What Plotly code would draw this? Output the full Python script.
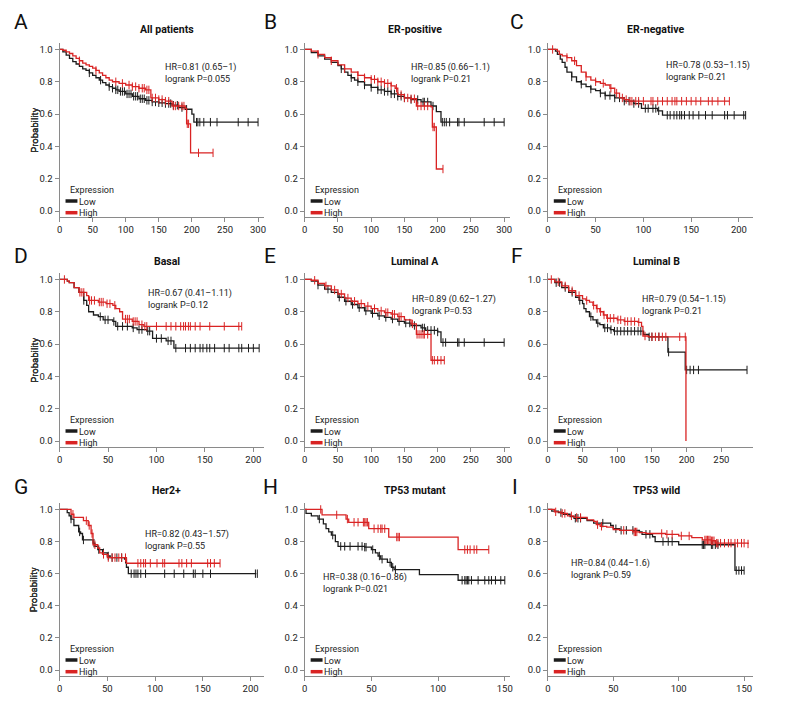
import numpy as np
import plotly.graph_objects as go

# ---------------- data ----------------
TITLES = ["All patients", "ER-positive", "ER-negative", "Basal", "Luminal A",
          "Luminal B", "Her2+", "TP53 mutant", "TP53 wild"]
LETTERS = ["A", "B", "C", "D", "E", "F", "G", "H", "I"]
HR_TEXT = ["HR=0.81 (0.65–1)", "HR=0.85 (0.66–1.1)", "HR=0.78 (0.53–1.15)",
           "HR=0.67 (0.41–1.11)", "HR=0.89 (0.62–1.27)", "HR=0.79 (0.54–1.15)",
           "HR=0.82 (0.43–1.57)", "HR=0.38 (0.16–0.86)", "HR=0.84 (0.44–1.6)"]
P_TEXT = ["logrank P=0.055", "logrank P=0.21", "logrank P=0.21", "logrank P=0.12",
          "logrank P=0.53", "logrank P=0.21", "logrank P=0.55", "logrank P=0.021",
          "logrank P=0.59"]
LEGEND_TITLE = "Expression"
GROUPS = ["Low", "High"]
X_TICKS = [
    [0, 50, 100, 150, 200, 250, 300], [0, 50, 100, 150, 200, 250, 300], [0, 50, 100, 150, 200],
    [0, 50, 100, 150, 200], [0, 50, 100, 150, 200, 250, 300], [0, 50, 100, 150, 200, 250],
    [0, 50, 100, 150, 200], [0, 50, 100, 150], [0, 50, 100, 150],
]
X_MAX = [309, 309, 215, 211, 309, 296, 214, 154, 157]
Y_TICKS = [0.0, 0.2, 0.4, 0.6, 0.8, 1.0]

# A: All patients
A_LOW_T = [0, 5, 10, 15, 20, 25, 30, 35, 40, 45, 50, 55, 60, 65, 70, 75, 80, 85, 90, 100, 110, 120, 130, 140, 150, 160, 170, 180, 190, 200, 203, 300]
A_LOW_S = [1, 0.985, 0.965, 0.945, 0.925, 0.91, 0.895, 0.88, 0.87, 0.855, 0.84, 0.825, 0.81, 0.795, 0.78, 0.77, 0.76, 0.75, 0.74, 0.725, 0.71, 0.695, 0.685, 0.675, 0.67, 0.665, 0.655, 0.64, 0.63, 0.60, 0.55, 0.55]
A_LOW_C = [45, 62, 75, 80, 85, 88, 92, 95, 98, 102, 105, 108, 112, 115, 118, 122, 125, 128, 132, 135, 140, 145, 150, 155, 160, 165, 168, 172, 178, 185, 192, 207, 209, 212, 218, 228, 238, 270, 285, 300]
A_HIGH_T = [0, 5, 10, 15, 20, 25, 30, 35, 40, 45, 50, 55, 60, 65, 70, 75, 80, 90, 100, 110, 120, 130, 138, 150, 160, 170, 190, 192, 198, 232]
A_HIGH_S = [1, 0.995, 0.985, 0.975, 0.96, 0.945, 0.93, 0.915, 0.905, 0.895, 0.885, 0.87, 0.855, 0.84, 0.825, 0.81, 0.80, 0.79, 0.78, 0.77, 0.76, 0.75, 0.70, 0.69, 0.68, 0.65, 0.635, 0.54, 0.36, 0.36]
A_HIGH_C = [30, 55, 85, 95, 105, 110, 115, 120, 125, 128, 132, 135, 140, 145, 150, 155, 160, 165, 172, 175, 180, 185, 188, 193, 195, 210, 232]

# B: ER-positive
B_LOW_T = [0, 10, 20, 30, 40, 50, 55, 60, 65, 70, 75, 80, 90, 100, 110, 120, 130, 140, 150, 160, 175, 190, 198, 205, 300]
B_LOW_S = [1, 0.98, 0.96, 0.94, 0.92, 0.90, 0.88, 0.86, 0.84, 0.825, 0.81, 0.80, 0.78, 0.765, 0.75, 0.74, 0.725, 0.71, 0.70, 0.69, 0.675, 0.65, 0.615, 0.55, 0.55]
B_LOW_C = [55, 70, 80, 90, 100, 110, 115, 120, 125, 130, 135, 140, 145, 150, 160, 170, 178, 180, 185, 193, 207, 210, 213, 218, 230, 232, 240, 270, 285, 300]
B_HIGH_T = [0, 10, 20, 30, 40, 50, 60, 70, 80, 90, 100, 110, 120, 130, 136, 140, 150, 160, 168, 190, 192, 198, 208]
B_HIGH_S = [1, 0.99, 0.97, 0.95, 0.93, 0.905, 0.88, 0.86, 0.84, 0.825, 0.815, 0.80, 0.79, 0.775, 0.76, 0.72, 0.70, 0.695, 0.65, 0.645, 0.52, 0.26, 0.26]
B_HIGH_C = [20, 40, 60, 80, 90, 100, 105, 110, 115, 120, 125, 130, 138, 145, 150, 155, 160, 165, 170, 175, 180, 185, 193, 195, 208]

# C: ER-negative
C_LOW_T = [0, 8, 10, 13, 15, 18, 20, 25, 30, 35, 40, 45, 50, 55, 60, 70, 80, 90, 98, 115, 120, 207]
C_LOW_S = [1, 0.99, 0.97, 0.94, 0.92, 0.89, 0.86, 0.83, 0.80, 0.785, 0.77, 0.755, 0.745, 0.73, 0.715, 0.70, 0.68, 0.665, 0.635, 0.62, 0.593, 0.593]
C_LOW_C = [25, 35, 45, 55, 60, 65, 70, 75, 80, 85, 90, 95, 102, 105, 110, 113, 116, 125, 128, 132, 135, 138, 140, 143, 148, 152, 158, 165, 172, 185, 188, 195, 205, 207]
C_HIGH_T = [0, 10, 12, 15, 20, 25, 30, 35, 40, 45, 50, 55, 60, 65, 70, 75, 80, 85, 190]
C_HIGH_S = [1, 0.99, 0.97, 0.96, 0.95, 0.93, 0.90, 0.86, 0.83, 0.81, 0.80, 0.79, 0.78, 0.76, 0.73, 0.70, 0.69, 0.68, 0.68]
C_HIGH_C = [5, 20, 28, 40, 50, 58, 66, 72, 78, 82, 86, 88, 92, 95, 100, 108, 110, 115, 120, 125, 130, 133, 135, 140, 145, 150, 155, 160, 168, 172, 178, 185, 190]

# D: Basal
D_LOW_T = [0, 8, 10, 15, 20, 25, 28, 30, 35, 40, 45, 55, 58, 75, 80, 90, 96, 110, 118, 206]
D_LOW_S = [1, 0.99, 0.98, 0.95, 0.92, 0.87, 0.84, 0.80, 0.78, 0.77, 0.75, 0.74, 0.71, 0.70, 0.69, 0.68, 0.635, 0.62, 0.575, 0.575]
D_LOW_C = [25, 42, 47, 50, 56, 60, 65, 70, 76, 82, 85, 91, 93, 100, 105, 112, 115, 120, 130, 135, 140, 145, 148, 152, 155, 160, 170, 175, 185, 188, 195, 200, 206]
D_HIGH_T = [0, 8, 10, 15, 20, 28, 30, 40, 48, 55, 58, 62, 65, 75, 82, 87, 188]
D_HIGH_S = [1, 0.99, 0.98, 0.95, 0.92, 0.90, 0.87, 0.86, 0.85, 0.84, 0.82, 0.80, 0.755, 0.74, 0.72, 0.71, 0.71]
D_HIGH_C = [5, 21, 23, 25, 31, 33, 36, 41, 43, 45, 49, 52, 57, 68, 70, 72, 76, 78, 80, 85, 88, 90, 100, 110, 115, 120, 125, 128, 130, 133, 135, 140, 145, 155, 170, 185, 188]

# E: Luminal A
E_LOW_T = [0, 10, 20, 30, 40, 50, 60, 70, 80, 90, 100, 110, 120, 130, 140, 150, 160, 175, 182, 200, 205, 300]
E_LOW_S = [1, 0.99, 0.965, 0.94, 0.92, 0.89, 0.865, 0.845, 0.825, 0.805, 0.79, 0.775, 0.765, 0.755, 0.74, 0.73, 0.715, 0.70, 0.685, 0.675, 0.61, 0.61]
E_LOW_C = [20, 35, 52, 62, 72, 82, 92, 102, 112, 122, 132, 142, 152, 158, 165, 177, 180, 185, 190, 195, 200, 208, 212, 230, 232, 240, 270, 300]
E_HIGH_T = [0, 10, 20, 30, 40, 50, 60, 70, 80, 90, 100, 110, 120, 130, 140, 150, 160, 168, 190, 210]
E_HIGH_S = [1, 0.995, 0.975, 0.96, 0.935, 0.91, 0.885, 0.865, 0.85, 0.835, 0.82, 0.805, 0.795, 0.785, 0.77, 0.75, 0.725, 0.66, 0.50, 0.50]
E_HIGH_C = [15, 32, 45, 55, 65, 75, 85, 95, 105, 115, 122, 125, 132, 135, 142, 145, 162, 169, 172, 175, 178, 180, 185, 192, 195, 200, 205, 210]

# F: Luminal B
F_LOW_T = [0, 10, 20, 30, 40, 45, 50, 52, 55, 60, 65, 70, 75, 80, 90, 95, 135, 138, 145, 173, 198, 287]
F_LOW_S = [1, 0.98, 0.95, 0.92, 0.89, 0.87, 0.85, 0.82, 0.80, 0.77, 0.75, 0.73, 0.72, 0.70, 0.69, 0.68, 0.68, 0.66, 0.645, 0.55, 0.44, 0.44]
F_LOW_C = [12, 17, 25, 35, 46, 62, 72, 82, 86, 91, 96, 100, 105, 110, 115, 120, 125, 130, 134, 146, 150, 160, 174, 200, 205, 210, 217, 287]
F_HIGH_T = [0, 10, 20, 30, 40, 50, 55, 60, 65, 70, 75, 80, 85, 100, 110, 130, 135, 137, 145, 199]
F_HIGH_S = [1, 0.985, 0.96, 0.93, 0.90, 0.88, 0.87, 0.86, 0.84, 0.82, 0.80, 0.78, 0.76, 0.75, 0.74, 0.735, 0.71, 0.65, 0.645, 0.0]
F_HIGH_C = [5, 15, 25, 35, 45, 56, 66, 71, 76, 81, 86, 90, 95, 101, 105, 111, 115, 120, 125, 131, 140, 150, 155, 160, 165, 170, 190, 198]

# G: Her2+
G_LOW_T = [0, 8, 10, 12, 15, 20, 22, 24, 35, 37, 40, 45, 50, 53, 68, 70, 72, 206]
G_LOW_S = [1, 0.98, 0.96, 0.94, 0.90, 0.86, 0.85, 0.81, 0.79, 0.77, 0.75, 0.73, 0.71, 0.70, 0.69, 0.64, 0.60, 0.60]
G_LOW_C = [12, 21, 25, 36, 41, 46, 51, 55, 60, 65, 69, 75, 78, 80, 82, 85, 90, 110, 120, 130, 140, 142, 150, 158, 205, 207]
G_HIGH_T = [0, 12, 15, 25, 30, 33, 35, 40, 42, 45, 50, 68, 70, 168]
G_HIGH_S = [1, 0.97, 0.95, 0.93, 0.90, 0.85, 0.78, 0.76, 0.73, 0.72, 0.70, 0.70, 0.665, 0.665]
G_HIGH_C = [14, 28, 31, 34, 37, 46, 51, 55, 58, 62, 65, 69, 82, 85, 88, 90, 95, 102, 108, 110, 125, 128, 133, 138, 155, 158, 162, 168]

# H: TP53 mutant
H_LOW_T = [0, 1, 5, 10, 14, 16, 18, 20, 23, 25, 45, 50, 53, 55, 57, 62, 65, 67, 86, 115, 150]
H_LOW_S = [1, 0.975, 0.96, 0.94, 0.91, 0.88, 0.86, 0.84, 0.80, 0.77, 0.765, 0.75, 0.73, 0.71, 0.69, 0.67, 0.64, 0.625, 0.594, 0.559, 0.559]
H_LOW_C = [11, 21, 27, 30, 34, 40, 43, 45, 46, 51, 56, 58, 64, 66, 68, 118, 120, 121, 122, 123, 125, 130, 135, 138, 140, 143, 147, 150]
H_HIGH_T = [0, 13, 31, 33, 48, 63, 115, 138]
H_HIGH_S = [1, 0.966, 0.94, 0.92, 0.88, 0.828, 0.75, 0.75]
H_HIGH_C = [12, 24, 32, 37, 40, 44, 45, 46, 47, 52, 55, 57, 58, 60, 69, 70, 71, 120, 122, 124, 127, 129, 138]

# I: TP53 wild
I_LOW_T = [0, 3, 8, 12, 17, 20, 30, 35, 48, 50, 55, 70, 72, 80, 82, 100, 143, 150]
I_LOW_S = [1, 0.99, 0.98, 0.97, 0.955, 0.945, 0.93, 0.915, 0.90, 0.88, 0.87, 0.86, 0.845, 0.83, 0.80, 0.78, 0.62, 0.62]
I_LOW_C = [10, 21, 23, 25, 42, 52, 56, 60, 65, 75, 78, 88, 92, 95, 118, 119, 120, 125, 126, 128, 130, 144, 146, 148, 150]
I_HIGH_T = [0, 5, 10, 15, 20, 30, 35, 37, 40, 45, 50, 55, 65, 70, 75, 90, 100, 110, 118, 125, 128, 153]
I_HIGH_S = [1, 0.985, 0.975, 0.96, 0.95, 0.935, 0.925, 0.905, 0.895, 0.89, 0.875, 0.87, 0.86, 0.855, 0.85, 0.845, 0.835, 0.825, 0.81, 0.805, 0.79, 0.785]
I_HIGH_C = [6, 11, 13, 18, 22, 25, 38, 41, 58, 66, 67, 68, 87, 91, 95, 102, 108, 120, 121, 122, 123, 124, 125, 126, 127, 129, 130, 132, 135, 138, 140, 143, 145, 148, 150, 153]

CURVES = [
    (A_LOW_T, A_LOW_S, A_LOW_C, A_HIGH_T, A_HIGH_S, A_HIGH_C),
    (B_LOW_T, B_LOW_S, B_LOW_C, B_HIGH_T, B_HIGH_S, B_HIGH_C),
    (C_LOW_T, C_LOW_S, C_LOW_C, C_HIGH_T, C_HIGH_S, C_HIGH_C),
    (D_LOW_T, D_LOW_S, D_LOW_C, D_HIGH_T, D_HIGH_S, D_HIGH_C),
    (E_LOW_T, E_LOW_S, E_LOW_C, E_HIGH_T, E_HIGH_S, E_HIGH_C),
    (F_LOW_T, F_LOW_S, F_LOW_C, F_HIGH_T, F_HIGH_S, F_HIGH_C),
    (G_LOW_T, G_LOW_S, G_LOW_C, G_HIGH_T, G_HIGH_S, G_HIGH_C),
    (H_LOW_T, H_LOW_S, H_LOW_C, H_HIGH_T, H_HIGH_S, H_HIGH_C),
    (I_LOW_T, I_LOW_S, I_LOW_C, I_HIGH_T, I_HIGH_S, I_HIGH_C),
]

# ---------------- layout / style ----------------
W, H = 792, 720
FONT = "Roboto, Liberation Sans, sans-serif"
BLACK = "#1c1c1c"
RED = "#d92323"
AXIS = "#8a8a8a"
TXT = "#222222"

COL_X = [(57, 263), (304, 511), (549, 756)]      # pixel left/right of plot areas
ROW_Y = [(43, 217), (273, 447), (503, 676)]      # pixel top/bottom of plot areas
LETTER_POS = [(18, 22), (270, 22), (518, 22), (18, 256), (269, 256), (518, 256),
              (18, 487), (270, 487), (516, 487)]
TITLE_Y = [30, 261, 490]
TITLE_X = [165, 415, 658]
HR_POS = [(161, 65), (409, 65), (666, 63), (144, 291), (410, 297), (642, 297),
          (141, 532), (320, 575), (570, 561)]
LEG_SIZE = 9
LEG_PITCH = 1.3 * LEG_SIZE


def px(x):
    return x / W


def py(y):
    return 1 - y / H


def step_at(t, s, c):
    t = np.asarray(t, float)
    s = np.asarray(s, float)
    idx = np.searchsorted(t, np.asarray(c, float), side="right") - 1
    idx = np.clip(idx, 0, len(s) - 1)
    return s[idx]


fig = go.Figure()
annotations = []
shapes = []

for i in range(9):
    r, c = divmod(i, 3)
    xa = "x" if i == 0 else f"x{i + 1}"
    ya = "y" if i == 0 else f"y{i + 1}"
    lt, ls, lc, ht, hs, hc = CURVES[i]
    for (t, s, cens, col) in [(lt, ls, lc, BLACK), (ht, hs, hc, RED)]:
        fig.add_trace(go.Scatter(x=t, y=s, mode="lines", xaxis=xa, yaxis=ya,
                                 line=dict(shape="hv", color=col, width=1.3),
                                 showlegend=False, hoverinfo="skip"))
        fig.add_trace(go.Scatter(x=cens, y=step_at(t, s, cens), mode="markers",
                                 xaxis=xa, yaxis=ya, showlegend=False, hoverinfo="skip",
                                 marker=dict(symbol="line-ns-open", size=6, color=col,
                                             line=dict(width=1, color=col))))

    x0, x1 = COL_X[c]
    y0, y1 = ROW_Y[r]
    axis_common = dict(showline=True, linecolor=AXIS, linewidth=1, ticks="outside",
                       ticklen=4, tickcolor=AXIS, showgrid=False, zeroline=False,
                       tickfont=dict(family=FONT, size=9.5, color=TXT))
    key = "" if i == 0 else str(i + 1)
    fig.layout["xaxis" + key] = dict(domain=[px(x0), px(x1)], anchor=ya,
                                     range=[0, X_MAX[i]], tickvals=X_TICKS[i], **axis_common)
    fig.layout["yaxis" + key] = dict(domain=[py(y1), py(y0)], anchor=xa,
                                     range=[-0.037, 1.04], tickvals=Y_TICKS,
                                     tickformat=".1f", **axis_common)

    # panel letter
    lx, ly = LETTER_POS[i]
    annotations.append(dict(text=LETTERS[i], x=px(lx), y=py(ly), xref="paper", yref="paper",
                            showarrow=False, xanchor="center", yanchor="middle",
                            font=dict(family=FONT, size=21, color="#111")))
    # title
    annotations.append(dict(text="<b>" + TITLES[i] + "</b>", x=px(TITLE_X[c]), y=py(TITLE_Y[r]),
                            xref="paper", yref="paper", showarrow=False,
                            xanchor="center", yanchor="middle",
                            font=dict(family=FONT, size=10.5, color="#111")))
    # y label
    annotations.append(dict(text="Probability", x=px(31), y=py((y0 + y1) / 2),
                            xref="paper", yref="paper", showarrow=False, textangle=-90,
                            xanchor="center", yanchor="middle",
                            font=dict(family=FONT, size=9.5, color="#333")))
    # HR / logrank text (two lines)
    hx, hy = HR_POS[i]
    annotations.append(dict(text=HR_TEXT[i] + "<br>" + P_TEXT[i], x=px(hx), y=py(hy + 8),
                            xref="paper", yref="paper", showarrow=False, align="left",
                            xanchor="left", yanchor="middle",
                            font=dict(family=FONT, size=9, color=TXT)))
    # legend block (title + two groups), swatches drawn as short thick lines
    mid = y1 - 16
    nb = "&nbsp;" * 4
    annotations.append(dict(text=LEGEND_TITLE + "<br>" + nb + GROUPS[0] + "<br>" + nb + GROUPS[1],
                            x=px(x0 + 8), y=py(mid), xref="paper", yref="paper",
                            showarrow=False, align="left", xanchor="left", yanchor="middle",
                            font=dict(family=FONT, size=LEG_SIZE, color=TXT)))
    for k, col in enumerate([BLACK, RED]):
        yy = mid + LEG_PITCH * k
        shapes.append(dict(type="line", xref="paper", yref="paper",
                           x0=px(x0 + 6), x1=px(x0 + 18), y0=py(yy), y1=py(yy),
                           line=dict(color=col, width=3.5)))

fig.update_layout(width=W, height=H, margin=dict(l=0, r=0, t=0, b=0),
                  paper_bgcolor="white", plot_bgcolor="white",
                  annotations=annotations, shapes=shapes,
                  font=dict(family=FONT))

fig.write_html("out.html", config={"displayModeBar": False},
               post_script="document.body.style.margin='0px';document.body.style.padding='0px';")
